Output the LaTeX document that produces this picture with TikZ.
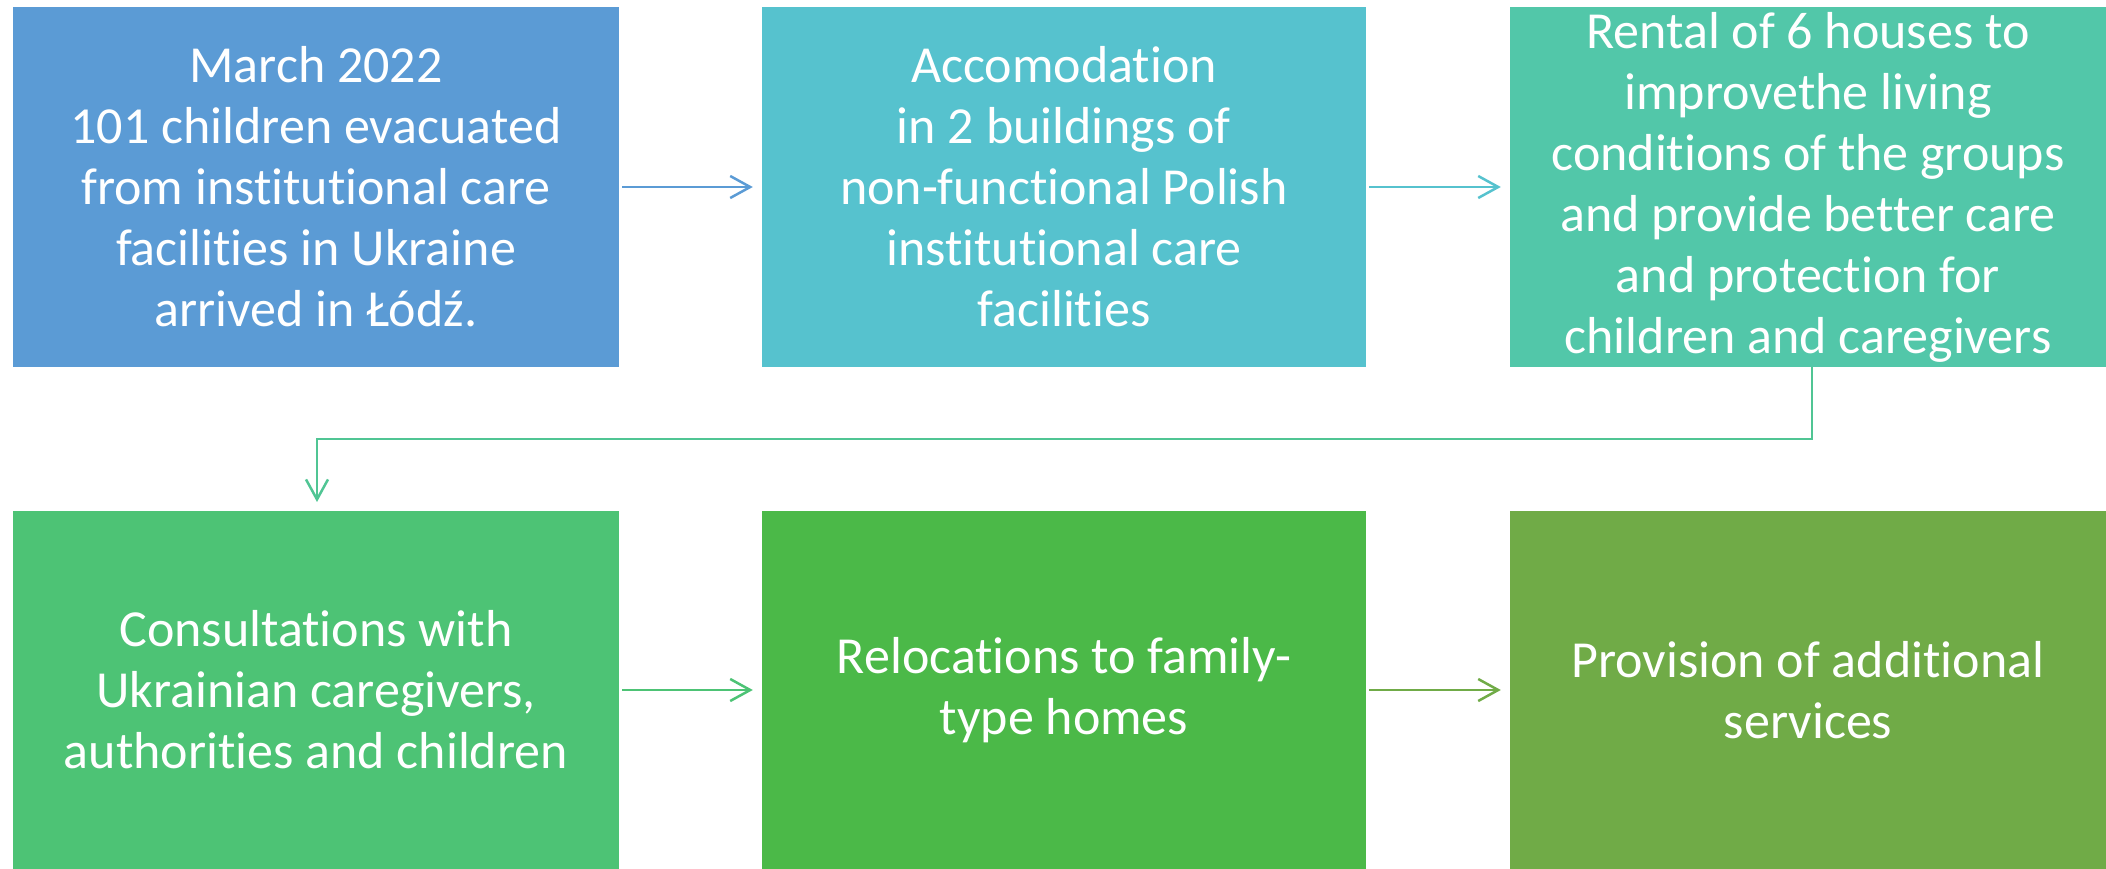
\documentclass[tikz,border=0pt]{standalone}
\usepackage{fontspec}
\setmainfont[RawFeature={-liga;-clig;-calt;-dlig;-rlig}]{Carlito}
\usetikzlibrary{arrows.meta}
\definecolor{cA}{HTML}{5B9BD5}
\definecolor{cB}{HTML}{56C2CE}
\definecolor{cC}{HTML}{52C7A9}
\definecolor{cD}{HTML}{4DC375}
\definecolor{cE}{HTML}{4BB948}
\definecolor{cF}{HTML}{70AB47}
\tikzset{
  stepbox/.style={rectangle, inner sep=0pt, text=white, align=center,
    minimum height=360pt,
    font=\fontsize{52pt}{61pt}\selectfont},
  conn/.style={line width=2.5pt, -{Straight Barb[length=20pt,width=22pt,line width=2.5pt]}}
}
\begin{document}
\begin{tikzpicture}[x=1pt,y=-1pt]
\useasboundingbox (0,0) rectangle (2106,869);
\node[stepbox, fill=cA, minimum width=606pt] (b1) at (316,187)
  {March 2022\\101 children evacuated\\from institutional care\\facilities in Ukraine\\arrived in Łódź.};
\node[stepbox, fill=cB, minimum width=604pt] (b2) at (1064,187)
  {Accomodation\\ in 2 buildings of\\non-functional Polish\\institutional care\\facilities};
\node[stepbox, fill=cC, minimum width=596pt] (b3) at (1808,187)
  {Rental of 6 houses to\\improvethe living\\conditions of the groups\\and provide better care\\and protection for\\children and caregivers};
\node[stepbox, fill=cD, minimum width=606pt, minimum height=358pt] (b4) at (316,690)
  {Consultations with\\Ukrainian caregivers,\\authorities and children};
\node[stepbox, fill=cE, minimum width=604pt, minimum height=358pt] (b5) at (1064,690)
  {Relocations to family-\\type homes};
\node[stepbox, fill=cF, minimum width=596pt, minimum height=358pt] (b6) at (1808,690)
  {Provision of additional\\services};
\draw[conn, draw=cA] ([xshift=3pt]b1.east) -- ([xshift=-9pt]b2.west);
\draw[conn, draw=cB] ([xshift=3pt]b2.east) -- ([xshift=-9pt]b3.west);
\draw[conn, draw=cD] ([xshift=3pt]b4.east) -- ([xshift=-9pt]b5.west);
\draw[conn, draw=cF] ([xshift=3pt]b5.east) -- ([xshift=-9pt]b6.west);
\coordinate (ea) at (1812,439);
\coordinate (eb) at (317,439);
\coordinate (ec) at (317,502);
\draw[conn, draw=cC!60!cD] (b3.south -| ea) -- (ea) -- (eb) -- (ec);
\end{tikzpicture}
\end{document}
